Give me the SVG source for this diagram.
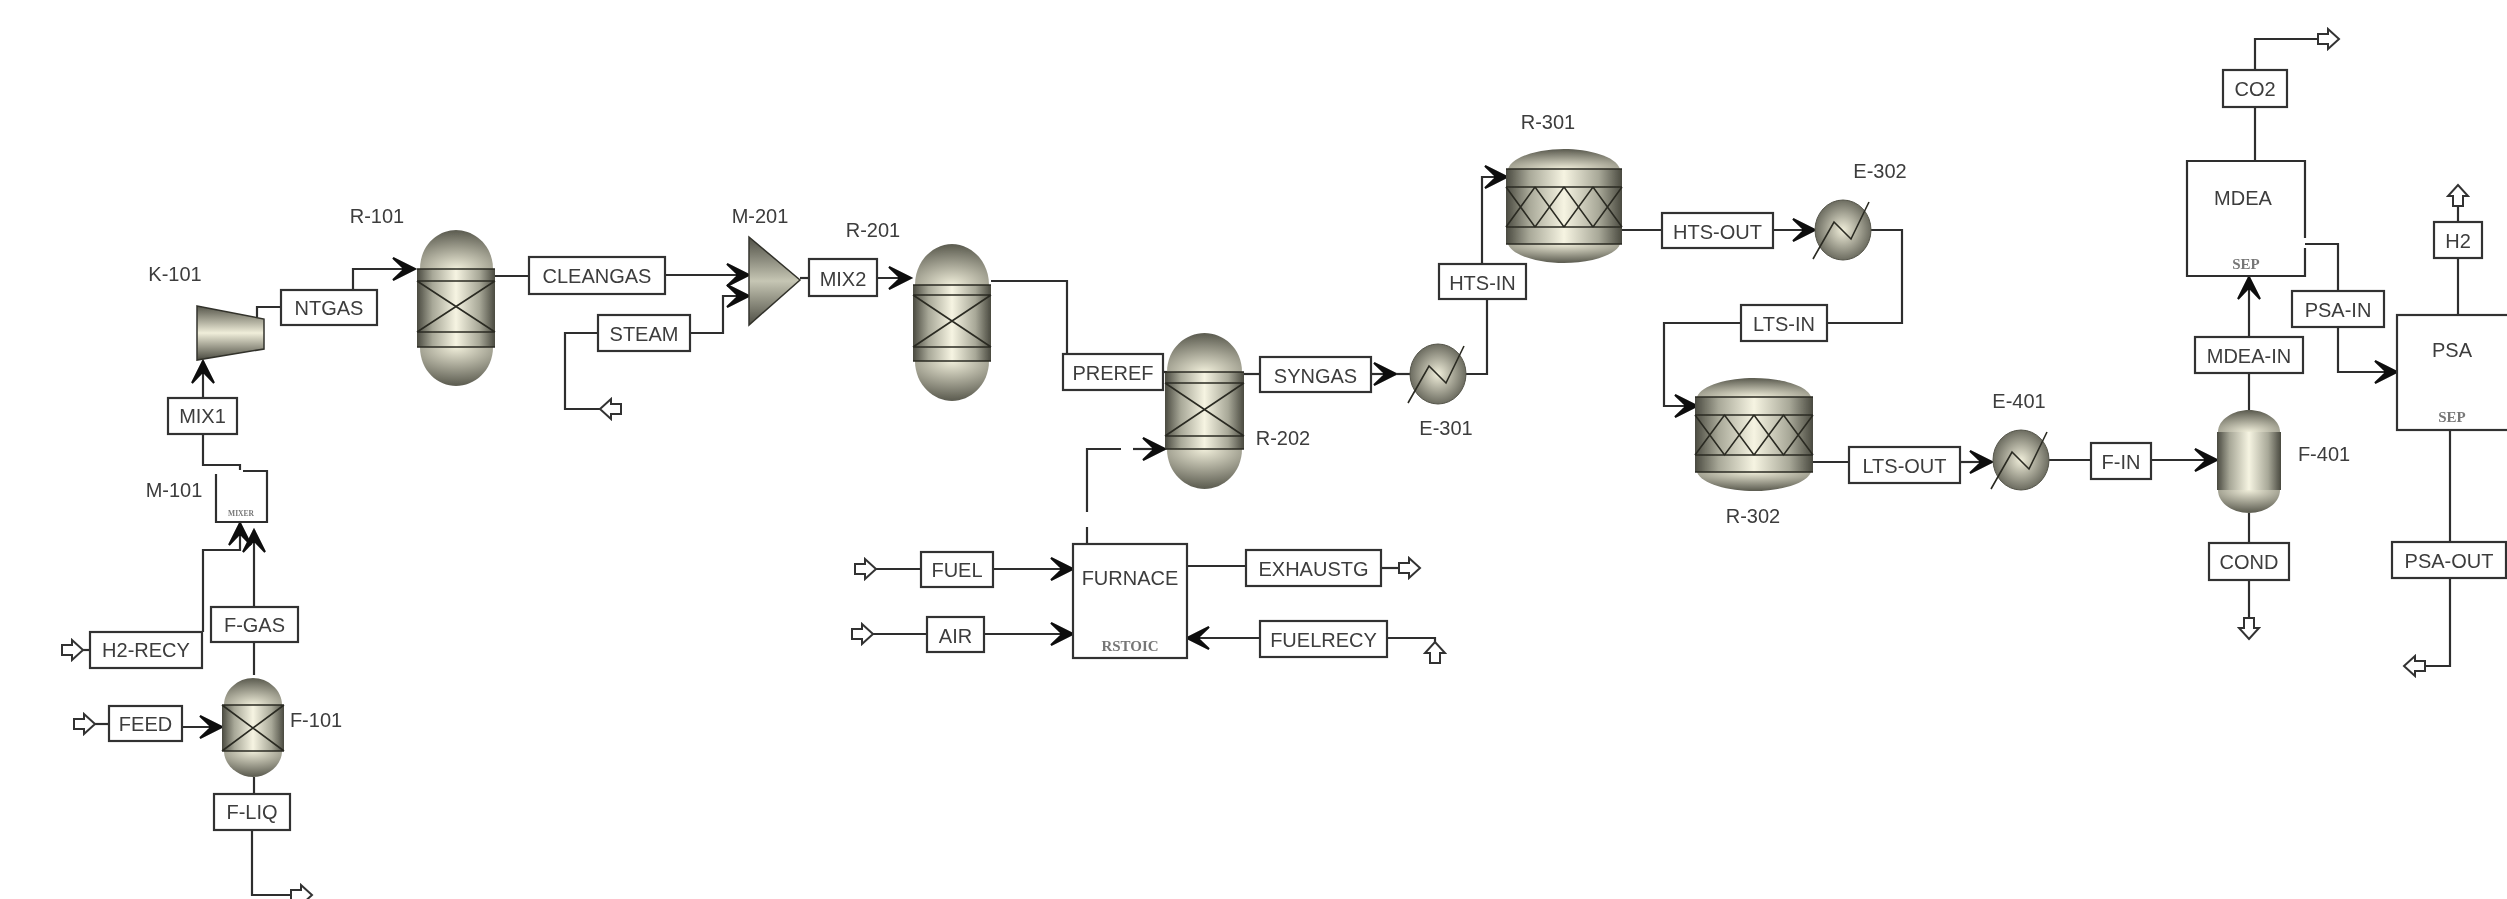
<svg xmlns="http://www.w3.org/2000/svg" xmlns:xlink="http://www.w3.org/1999/xlink" width="2507" height="899" viewBox="0 0 2507 899">
<style>
.c{fill:none;stroke:#2e2e2e;stroke-width:2.2}
.a{marker-end:url(#arw)}
.hi{marker-start:url(#hin)}
.ho{marker-end:url(#hout)}
.b{fill:#fff;stroke:#333;stroke-width:2.2}
.l{fill:none;stroke:#2a2a22;stroke-width:1.6}
.t{font-family:"Liberation Sans",Arial,sans-serif;font-size:20px;fill:#3c3c3c;text-anchor:middle}
.u{font-family:"Liberation Serif","Times New Roman",serif;font-size:15px;fill:#777;text-anchor:middle;font-weight:bold}
.cyl{fill:url(#cyl)}
.dt{fill:url(#domeT)}
.db{fill:url(#domeB)}
</style>
<defs>
<linearGradient id="cyl"><stop offset="0" stop-color="#4a4a40"/><stop offset=".2" stop-color="#a8a898"/><stop offset=".5" stop-color="#f6f4e2"/><stop offset=".8" stop-color="#a8a898"/><stop offset="1" stop-color="#4a4a40"/></linearGradient>
<radialGradient id="domeT" cx=".5" cy="1" r=".95"><stop offset="0" stop-color="#f0eeda"/><stop offset="1" stop-color="#616155"/></radialGradient>
<radialGradient id="domeB" cx=".5" cy="0" r=".95"><stop offset="0" stop-color="#f0eeda"/><stop offset="1" stop-color="#616155"/></radialGradient>
<radialGradient id="hxg"><stop offset="0" stop-color="#f0eeda"/><stop offset="1" stop-color="#6c6c60"/></radialGradient>
<linearGradient id="vert" x2="0" y2="1"><stop offset="0" stop-color="#55554a"/><stop offset=".5" stop-color="#f0eeda"/><stop offset="1" stop-color="#4a4a40"/></linearGradient>
<linearGradient id="tri" x2="0" y2="1"><stop offset="0" stop-color="#4f4f45"/><stop offset=".5" stop-color="#c6c6b4"/><stop offset="1" stop-color="#4f4f45"/></linearGradient>
<marker id="arw" markerUnits="userSpaceOnUse" markerWidth="30" markerHeight="30" viewBox="-26 -15 30 30" refX="0" refY="0" orient="auto"><path d="M0,0L-22,-11L-12,-1.500V1.500L-22,11Z" fill="#0c0c0c" stroke="#0c0c0c" stroke-width="2" stroke-linejoin="miter"/></marker>
<marker id="hin" markerUnits="userSpaceOnUse" markerWidth="24" markerHeight="24" viewBox="-1 -12 24 24" refX="21" refY="0" orient="auto"><path d="M0,-5H10V-10L21,0L10,10V5H0Z" fill="#fff" stroke="#333" stroke-width="2"/></marker>
<marker id="hout" markerUnits="userSpaceOnUse" markerWidth="24" markerHeight="24" viewBox="-1 -12 24 24" refX="0" refY="0" orient="auto"><path d="M0,-5H10V-10L21,0L10,10V5H0Z" fill="#fff" stroke="#333" stroke-width="2"/></marker>
<g id="hx"><ellipse rx="28" ry="30" fill="url(#hxg)" stroke="#55554a" stroke-width="1"/><path d="M-30,29L-9,-8L8,9L26,-28" class="l"/></g>
<filter id="soft" filterUnits="userSpaceOnUse" x="0" y="0" width="2507" height="899"><feGaussianBlur stdDeviation="0.7"/></filter>
</defs>
<g filter="url(#soft)">
<g id="connectors">
<path class="c hi" d="M83,650H90"/>
<path class="c hi" d="M95,724H109"/>
<path class="c a" d="M182,727H222"/>
<path class="c" d="M254,675V642"/>
<path class="c a" d="M254,607V530"/>
<path class="c a" d="M203,632V550H240V523"/>
<path class="c" d="M254,777V794"/>
<path class="c ho" d="M252,830V895H291"/>
<path class="c" d="M203,434V465H240V470"/>
<path class="c a" d="M203,398V361"/>
<path class="c" d="M257,317V307H281"/>
<path class="c a" d="M353,290V269H415"/>
<path class="c" d="M495,276H529"/>
<path class="c a" d="M665,275H749"/>
<path class="c hi" d="M600,409H565V333H598"/>
<path class="c a" d="M690,333H723V296H749"/>
<path class="c" d="M800,278H809"/>
<path class="c a" d="M877,278H911"/>
<path class="c" d="M991,281H1067V354"/>
<path class="c" d="M1163,372H1167"/>
<path class="c" d="M1244,374H1260"/>
<path class="c a" d="M1371,374H1396"/>
<path class="c" d="M1396,374H1410"/>
<path class="c" d="M1087,544V527"/>
<path class="c" d="M1087,512V449H1121"/>
<path class="c a" d="M1133,449H1165"/>
<path class="c hi" d="M876,569H921"/>
<path class="c a" d="M993,569H1073"/>
<path class="c hi" d="M873,634H927"/>
<path class="c a" d="M984,634H1073"/>
<path class="c" d="M1187,566H1246"/>
<path class="c ho" d="M1381,568H1399"/>
<path class="c a" d="M1260,638H1187"/>
<path class="c hi" d="M1435,642V638H1387"/>
<path class="c" d="M1466,374H1487V299"/>
<path class="c a" d="M1482,264V177H1507"/>
<path class="c" d="M1622,230H1662"/>
<path class="c a" d="M1773,230H1815"/>
<path class="c" d="M1871,230H1902V323H1827"/>
<path class="c a" d="M1741,323H1664V406H1697"/>
<path class="c" d="M1813,462H1849"/>
<path class="c a" d="M1960,462H1992"/>
<path class="c" d="M2049,460H2091"/>
<path class="c a" d="M2151,460H2217"/>
<path class="c" d="M2249,410V373"/>
<path class="c a" d="M2249,337V277"/>
<path class="c" d="M2249,513V543"/>
<path class="c ho" d="M2249,580V618"/>
<path class="c" d="M2255,161V107"/>
<path class="c ho" d="M2255,70V39H2318"/>
<path class="c" d="M2305,244H2338V291"/>
<path class="c a" d="M2338,327V372H2397"/>
<path class="c" d="M2458,315V258"/>
<path class="c ho" d="M2458,222V206"/>
<path class="c" d="M2450,430V542"/>
<path class="c ho" d="M2450,578V666H2425"/>
</g>

<g id="K-101"><polygon points="197,306 264,319 264,349 197,360" fill="url(#vert)" stroke="#33332c" stroke-width="1.500"/><text class="t" x="175" y="281">K-101</text></g>

<g id="M-101"><path d="M216,474V522H267V471H243" fill="none" stroke="#2e2e2e" stroke-width="2.200"/><text class="u" x="241" y="516" style="font-size:7.500px">MIXER</text><text class="t" x="174" y="497">M-101</text></g>

<g id="F-101">
<path class="dt" d="M224,705C224,690 238,678 253,678C268,678 282,690 282,705Z"/>
<rect class="cyl" x="222" y="705" width="62" height="46"/>
<path class="db" d="M224,751C224,765 238,777 253,777C268,777 282,765 282,751Z"/>
<path class="l" d="M222,705H284M222,751H284M222,705L284,751M284,705L222,751"/>
<text class="t" x="316" y="727">F-101</text></g>

<g id="R-101">
<path class="dt" d="M420,269C420,245 438,230 456,230C474,230 493,245 493,269Z"/>
<rect class="cyl" x="417" y="269" width="78" height="78"/>
<path class="db" d="M420,347C420,371 438,386 456,386C474,386 493,371 493,347Z"/>
<path class="l" d="M417,269H495M417,281H495M417,332H495M417,347H495M417,281L495,332M495,281L417,332"/>
<text class="t" x="377" y="223">R-101</text></g>

<g id="M-201"><polygon points="749,237 800,280 749,325" fill="url(#tri)" stroke="#33332c" stroke-width="1.500"/><text class="t" x="760" y="223">M-201</text></g>

<g id="R-201">
<path class="dt" d="M915,285C915,260 934,244 952,244C970,244 989,260 989,285Z"/>
<rect class="cyl" x="913" y="285" width="78" height="76"/>
<path class="db" d="M915,361C915,385 934,401 952,401C970,401 989,385 989,361Z"/>
<path class="l" d="M913,285H991M913,295H991M913,347H991M913,361H991M913,295L991,347M991,295L913,347"/>
<text class="t" x="873" y="237">R-201</text></g>

<g id="R-202">
<path class="dt" d="M1167,372C1167,348 1186,333 1204.500,333C1223,333 1242,348 1242,372Z"/>
<rect class="cyl" x="1165" y="372" width="79" height="77"/>
<path class="db" d="M1167,449C1167,473 1186,489 1204.500,489C1223,489 1242,473 1242,449Z"/>
<path class="l" d="M1165,372H1244M1165,383H1244M1165,436H1244M1165,449H1244M1165,383L1244,436M1244,383L1165,436"/>
<text class="t" x="1283" y="445">R-202</text></g>

<g id="FURNACE"><rect class="b" x="1073" y="544" width="114" height="114"/><text class="t" x="1130" y="585">FURNACE</text><text class="u" x="1130" y="651">RSTOIC</text></g>

<g id="E-301"><use xlink:href="#hx" href="#hx" x="1438" y="374"/><text class="t" x="1446" y="435">E-301</text></g>

<g id="R-301">
<path class="dt" d="M1508,169C1512,156 1540,149 1564,149C1588,149 1616,156 1620,169Z"/>
<rect class="cyl" x="1506" y="169" width="116" height="75"/>
<path class="db" d="M1508,244C1512,256 1540,263 1564,263C1588,263 1616,256 1620,244Z"/>
<path class="l" d="M1506,169H1622M1506,187H1622M1506,227H1622M1506,244H1622M1506,227L1535,187L1564,227L1593,187L1622,227M1506,187L1535,227L1564,187L1593,227L1622,187"/>
<text class="t" x="1548" y="129">R-301</text></g>

<g id="E-302"><use xlink:href="#hx" href="#hx" x="1843" y="230"/><text class="t" x="1880" y="178">E-302</text></g>

<g id="R-302">
<path class="dt" d="M1697,397C1701,385 1729,378 1754,378C1779,378 1807,385 1811,397Z"/>
<rect class="cyl" x="1695" y="397" width="118" height="75"/>
<path class="db" d="M1697,472C1701,484 1729,491 1754,491C1779,491 1807,484 1811,472Z"/>
<path class="l" d="M1695,397H1813M1695,415H1813M1695,455H1813M1695,472H1813M1695,455L1724.500,415L1754,455L1783.500,415L1813,455M1695,415L1724.500,455L1754,415L1783.500,455L1813,415"/>
<text class="t" x="1753" y="523">R-302</text></g>

<g id="E-401"><use xlink:href="#hx" href="#hx" x="2021" y="460"/><text class="t" x="2019" y="408">E-401</text></g>

<g id="F-401">
<path class="dt" d="M2218,432C2218,419 2234,410 2249,410C2264,410 2280,419 2280,432Z"/>
<rect class="cyl" x="2217" y="432" width="64" height="58"/>
<path class="db" d="M2218,490C2218,504 2234,513 2249,513C2264,513 2280,504 2280,490Z"/>
<text class="t" x="2324" y="461">F-401</text></g>

<g id="MDEA"><rect x="2187" y="161" width="118" height="115" fill="#fff"/><path d="M2305,238V161H2187V276H2305V248" fill="none" stroke="#2e2e2e" stroke-width="2.200"/><text class="t" x="2243" y="205">MDEA</text><text class="u" x="2246" y="269">SEP</text></g>

<g id="PSA"><rect class="b" x="2397" y="315" width="120" height="115"/><text class="t" x="2452" y="357">PSA</text><text class="u" x="2452" y="422">SEP</text></g>

<g id="s-NTGAS"><rect class="b" x="281" y="290" width="96" height="35"/><text class="t" x="329" y="315">NTGAS</text></g>
<g id="s-MIX1"><rect class="b" x="168" y="398" width="69" height="36"/><text class="t" x="202.500" y="423">MIX1</text></g>
<g id="s-F-GAS"><rect class="b" x="211" y="607" width="87" height="35"/><text class="t" x="254.500" y="632">F-GAS</text></g>
<g id="s-H2-RECY"><rect class="b" x="90" y="632" width="112" height="36"/><text class="t" x="146" y="657">H2-RECY</text></g>
<g id="s-FEED"><rect class="b" x="109" y="706" width="73" height="35"/><text class="t" x="145.500" y="731">FEED</text></g>
<g id="s-F-LIQ"><rect class="b" x="214" y="794" width="76" height="36"/><text class="t" x="252" y="819">F-LIQ</text></g>
<g id="s-CLEANGAS"><rect class="b" x="529" y="257" width="136" height="37"/><text class="t" x="597" y="283">CLEANGAS</text></g>
<g id="s-STEAM"><rect class="b" x="598" y="315" width="92" height="36"/><text class="t" x="644" y="341">STEAM</text></g>
<g id="s-MIX2"><rect class="b" x="809" y="259" width="68" height="37"/><text class="t" x="843" y="286">MIX2</text></g>
<g id="s-PREREF"><rect class="b" x="1063" y="354" width="100" height="36"/><text class="t" x="1113" y="380">PREREF</text></g>
<g id="s-SYNGAS"><rect class="b" x="1260" y="357" width="111" height="35"/><text class="t" x="1315.500" y="383">SYNGAS</text></g>
<g id="s-FUEL"><rect class="b" x="921" y="552" width="72" height="35"/><text class="t" x="957" y="577">FUEL</text></g>
<g id="s-AIR"><rect class="b" x="927" y="617" width="57" height="35"/><text class="t" x="955.500" y="643">AIR</text></g>
<g id="s-EXHAUSTG"><rect class="b" x="1246" y="550" width="135" height="36"/><text class="t" x="1313.500" y="576">EXHAUSTG</text></g>
<g id="s-FUELRECY"><rect class="b" x="1260" y="621" width="127" height="36"/><text class="t" x="1323.500" y="647">FUELRECY</text></g>
<g id="s-HTS-IN"><rect class="b" x="1439" y="264" width="87" height="35"/><text class="t" x="1482.500" y="290">HTS-IN</text></g>
<g id="s-HTS-OUT"><rect class="b" x="1662" y="213" width="111" height="35"/><text class="t" x="1717.500" y="239">HTS-OUT</text></g>
<g id="s-LTS-IN"><rect class="b" x="1741" y="305" width="86" height="36"/><text class="t" x="1784" y="331">LTS-IN</text></g>
<g id="s-LTS-OUT"><rect class="b" x="1849" y="447" width="111" height="36"/><text class="t" x="1904.500" y="473">LTS-OUT</text></g>
<g id="s-F-IN"><rect class="b" x="2091" y="443" width="60" height="36"/><text class="t" x="2121" y="469">F-IN</text></g>
<g id="s-COND"><rect class="b" x="2209" y="543" width="80" height="37"/><text class="t" x="2249" y="569">COND</text></g>
<g id="s-MDEA-IN"><rect class="b" x="2195" y="337" width="108" height="36"/><text class="t" x="2249" y="363">MDEA-IN</text></g>
<g id="s-PSA-IN"><rect class="b" x="2292" y="291" width="92" height="36"/><text class="t" x="2338" y="317">PSA-IN</text></g>
<g id="s-CO2"><rect class="b" x="2223" y="70" width="64" height="37"/><text class="t" x="2255" y="96">CO2</text></g>
<g id="s-H2"><rect class="b" x="2434" y="222" width="48" height="36"/><text class="t" x="2458" y="248">H2</text></g>
<g id="s-PSA-OUT"><rect class="b" x="2392" y="542" width="114" height="36"/><text class="t" x="2449" y="568">PSA-OUT</text></g>
</g>
</svg>
